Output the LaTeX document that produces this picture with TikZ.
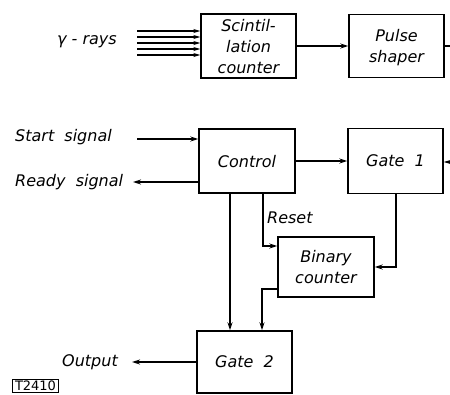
\documentclass[tikz,border=0pt]{standalone}
\usepackage{fontspec}
\setmainfont{DejaVu Sans}
\usetikzlibrary{arrows.meta}
\tikzset{
  blk/.style={draw, line width=1.4pt, rectangle, inner sep=0pt, align=center,
    font=\fontsize{16}{21}\selectfont\itshape, text depth=0pt},
  lbl/.style={inner sep=0pt, font=\fontsize{16}{21}\selectfont\itshape},
  wire/.style={line width=1.4pt},
  arr/.style={wire, -{Stealth[length=8pt,width=5pt]}},
  sarr/.style={line width=1.1pt, -{Stealth[length=7pt,width=4pt]}}
}
\begin{document}
\begin{tikzpicture}[x=1pt,y=-1pt]
\useasboundingbox (0,0) rectangle (450,394);
% boxes
\node[blk, minimum width=95pt, minimum height=64pt] (scint) at (248.5,46) {Scintil-\\lation\\counter};
\node[blk, minimum width=95pt, minimum height=63pt] (pulse) at (396.5,46) {Pulse\\shaper};
\node[blk, minimum width=96pt, minimum height=64pt] (control) at (247,161) {Control};
\node[blk, minimum width=95pt, minimum height=65pt] (gate1) at (395.5,161) {Gate\ \ 1};
\node[blk, minimum width=96pt, minimum height=60pt] (binary) at (326,267) {Binary\\counter};
\node[blk, minimum width=95pt, minimum height=62pt] (gate2) at (244.5,362) {Gate\ \ 2};
% labels
\node[lbl] (gamma) at (87,42) {γ\ -\ rays};
\node[lbl, anchor=west] (startl) at (15,137) {Start\ \ signal};
\node[lbl, anchor=west] (readyl) at (15,182) {Ready\ \ signal};
\node[lbl, anchor=west] (outl) at (62,362) {Output};
\node[lbl, anchor=west] (resetl) at (267,218) {Reset};
\node[draw, line width=1pt, anchor=south west, inner xsep=2.5pt, inner ysep=1.5pt,
  font=\fontsize{13}{15}\selectfont] (tag) at (12,393) {T2410};
% coordinates
\coordinate (r1) at (137,31);
\coordinate (r2) at (137,37);
\coordinate (r3) at (137,43);
\coordinate (r4) at (137,49);
\coordinate (r5) at (137,55);
\coordinate (pout) at (450,46);
\coordinate (g1in) at (450,162);
\coordinate (start) at (137,139);
\coordinate (ready) at (133,182);
\coordinate (outp) at (132,362);
\coordinate (cx) at (230,0);
\coordinate (rx) at (263,246);
\coordinate (gx) at (396,0);
\coordinate (bx) at (262,289);
% connectors
\foreach \r in {r1,r2,r3,r4,r5} \draw[sarr] (\r) -- (\r -| scint.west);
\draw[arr] (scint.east) -- (pulse.west);
\draw[wire] (pulse.east) -- (pout -| pulse.east) -- (pout);
\draw[sarr] (g1in) -- (g1in -| gate1.east);
\draw[arr] (start) -- (start -| control.west);
\draw[arr] (ready -| control.west) -- (ready);
\draw[arr] (control) -- (gate1);
\draw[arr] (cx |- control.south) -- (cx |- gate2.north);
\draw[arr] (rx |- control.south) -- (rx) -- (rx -| binary.west);
\draw[arr] (gx |- gate1.south) |- (binary.east);
\draw[arr] (bx -| binary.west) -- (bx) -- (bx |- gate2.north);
\draw[arr] (outp -| gate2.west) -- (outp);
\end{tikzpicture}
\end{document}
